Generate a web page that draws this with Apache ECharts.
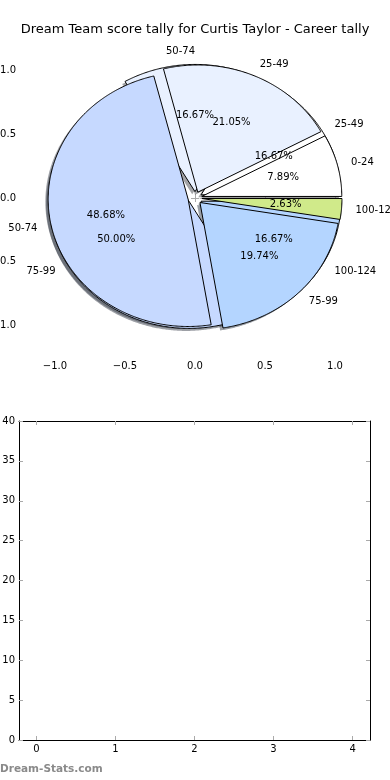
<!DOCTYPE html>
<html><head><meta charset="utf-8">
<script src="https://cdn.jsdelivr.net/npm/echarts@6/dist/echarts.min.js"></script>
<style>html,body{margin:0;padding:0;background:#fff}#c{width:390px;height:780px}</style>
</head><body><div id="c"></div>
<script>
const chartTitle = 'Dream Team score tally for Curtis Taylor - Career tally';
const pie1Labels = ['0-24', '25-49', '50-74', '75-99', '100-124'];
const pie1Counts = [6, 16, 37, 15, 2];
const pie2Labels = ['25-49', '50-74', '75-99', '100-124'];
const pie2Counts = [1, 1, 3, 1];
const pieTicks = [-1, -0.5, 0, 0.5, 1];
const emptyXTicks = [0, 1, 2, 3, 4];
const emptyYMax = 40;
const watermark = 'Dream-Stats.com';

const pie1Colors = ['#ffffff', '#e9f1ff', '#c6d9ff', '#b4d5ff', '#d0ea8a'];
const pie2Colors = ['#ffffff', '#e9f1ff', '#c6d9ff', '#b4d5ff'];
const EXPLODE = 0.05;
const FONT = '"DejaVu Sans", sans-serif';

function geom(counts) {
  const total = counts.reduce((a, b) => a + b, 0);
  let acc = 0;
  return counts.map(c => {
    const t1 = acc / total * 360; acc += c;
    const t2 = acc / total * 360;
    return [t1, t2, c / total * 100];
  });
}
const g1 = geom(pie1Counts), g2 = geom(pie2Counts);

function wedgePts(api, t1, t2, dx, dy) {
  const mid = (t1 + t2) / 2 * Math.PI / 180;
  const cx = EXPLODE * Math.cos(mid) + dx, cy = EXPLODE * Math.sin(mid) + dy;
  const pts = [api.coord([cx, cy])];
  const n = Math.max(2, Math.ceil((t2 - t1) * 2));
  for (let i = 0; i <= n; i++) {
    const a = (t1 + (t2 - t1) * i / n) * Math.PI / 180;
    pts.push(api.coord([cx + Math.cos(a), cy + Math.sin(a)]));
  }
  return pts;
}
function shade(hex) {
  const r = parseInt(hex.slice(1, 3), 16), g = parseInt(hex.slice(3, 5), 16), b = parseInt(hex.slice(5, 7), 16);
  return 'rgba(' + Math.round(r * 0.3) + ',' + Math.round(g * 0.3) + ',' + Math.round(b * 0.3) + ',0.5)';
}

function wedgeSeries(g, colors, z, shadow) {
  return {
    type: 'custom', coordinateSystem: 'cartesian2d', xAxisIndex: 0, yAxisIndex: 0,
    z: z, silent: true, clip: false,
    data: g.map(w => [w[0], w[1]]),
    renderItem: function (params, api) {
      const i = params.dataIndex;
      const t1 = api.value(0), t2 = api.value(1);
      if (shadow) {
        return { type: 'polygon', shape: { points: wedgePts(api, t1, t2, -0.02, -0.02) },
          style: { fill: shade(colors[i]), stroke: null } };
      }
      return { type: 'polygon', shape: { points: wedgePts(api, t1, t2, 0, 0) },
        style: { fill: colors[i], stroke: '#000', lineWidth: 1 } };
    }
  };
}

const labelItems = [];
function addLabels(g, labels) {
  g.forEach((w, i) => {
    const mid = (w[0] + w[1]) / 2 * Math.PI / 180;
    const c = Math.cos(mid), s = Math.sin(mid);
    const lx = (EXPLODE + 1.1) * c, ly = (EXPLODE + 1.1) * s;
    labelItems.push([lx, ly, labels[i], lx > 1e-9 ? 'left' : 'right']);
    const px = (EXPLODE + 0.6) * c, py = (EXPLODE + 0.6) * s;
    labelItems.push([px, py, w[2].toFixed(2) + '%', 'center']);
  });
}
addLabels(g2, pie2Labels);
addLabels(g1, pie1Labels);

const tickStyle = { show: true, inside: true, length: 4, lineStyle: { color: '#aaa', width: 1 } };
const fmt = v => (v < 0 ? '\u2212' : '') + Math.abs(v).toFixed(1);
const labStyle = { color: '#000', fontSize: 10, fontFamily: FONT };

const option = {
  animation: false,
  backgroundColor: '#fff',
  title: { text: chartTitle, left: 'center', top: 23, padding: 0,
    textStyle: { fontSize: 13, fontWeight: 'normal', color: '#000', fontFamily: FONT } },
  graphic: [{ type: 'text', left: 0, top: 764, style: { text: watermark, fill: '#8a8a8a', font: 'bold 10.5px ' + FONT } }],
  grid: [
    { left: 20, top: 39, width: 350, height: 318, containLabel: false, outerBoundsMode: 'none' },
    { left: 19, top: 421, width: 351, height: 319, containLabel: false, outerBoundsMode: 'none' }
  ],
  xAxis: [
    { gridIndex: 0, type: 'value', min: -1.25, max: 1.25, position: 'bottom',
      axisLine: { show: false }, splitLine: { show: false },
      axisTick: Object.assign({ customValues: pieTicks }, tickStyle),
      axisLabel: { customValues: pieTicks, formatter: fmt, margin: 4, ...labStyle } },
    { gridIndex: 0, type: 'value', min: -1.25, max: 1.25, position: 'top',
      axisLine: { show: false }, splitLine: { show: false },
      axisTick: Object.assign({ customValues: pieTicks }, tickStyle), axisLabel: { show: false } },
    { gridIndex: 1, type: 'value', min: -0.22, max: 4.22, position: 'bottom',
      axisLine: { show: true, onZero: false, lineStyle: { color: '#000', width: 1 } }, splitLine: { show: false },
      axisTick: Object.assign({ customValues: emptyXTicks }, tickStyle),
      axisLabel: { customValues: emptyXTicks, margin: 4, ...labStyle } },
    { gridIndex: 1, type: 'value', min: -0.22, max: 4.22, position: 'top',
      axisLine: { show: true, onZero: false, lineStyle: { color: '#000', width: 1 } }, splitLine: { show: false },
      axisTick: Object.assign({ customValues: emptyXTicks }, tickStyle), axisLabel: { show: false } }
  ],
  yAxis: [
    { gridIndex: 0, type: 'value', min: -1.25, max: 1.25, position: 'left',
      axisLine: { show: false }, splitLine: { show: false },
      axisTick: Object.assign({ customValues: pieTicks }, tickStyle),
      axisLabel: { customValues: pieTicks, formatter: fmt, margin: 4, ...labStyle } },
    { gridIndex: 0, type: 'value', min: -1.25, max: 1.25, position: 'right',
      axisLine: { show: false }, splitLine: { show: false },
      axisTick: Object.assign({ customValues: pieTicks }, tickStyle), axisLabel: { show: false } },
    { gridIndex: 1, type: 'value', min: 0, max: emptyYMax, interval: 5, position: 'left',
      axisLine: { show: true, onZero: false, lineStyle: { color: '#000', width: 1 } }, splitLine: { show: false },
      axisTick: tickStyle, axisLabel: { margin: 4, ...labStyle } },
    { gridIndex: 1, type: 'value', min: 0, max: emptyYMax, interval: 5, position: 'right',
      axisLine: { show: true, onZero: false, lineStyle: { color: '#000', width: 1 } }, splitLine: { show: false },
      axisTick: tickStyle, axisLabel: { show: false } }
  ],
  series: [
    wedgeSeries(g2, pie2Colors, 1, true),
    wedgeSeries(g1, pie1Colors, 1, true),
    wedgeSeries(g2, pie2Colors, 2, false),
    wedgeSeries(g1, pie1Colors, 3, false),
    {
      type: 'custom', coordinateSystem: 'cartesian2d', xAxisIndex: 0, yAxisIndex: 0,
      z: 5, silent: true, clip: false,
      data: labelItems.map(l => [l[0], l[1]]),
      renderItem: function (params, api) {
        const l = labelItems[params.dataIndex];
        const p = api.coord([api.value(0), api.value(1)]);
        return { type: 'text', x: p[0], y: p[1],
          style: { text: l[2], fill: '#000', font: '10px ' + FONT, align: l[3], verticalAlign: 'middle' } };
      }
    },
    { type: 'scatter', xAxisIndex: 2, yAxisIndex: 2, data: [], silent: true }
  ]
};
const chart = echarts.init(document.getElementById('c'), null, { renderer: 'canvas' });
chart.setOption(option);
</script></body></html>
